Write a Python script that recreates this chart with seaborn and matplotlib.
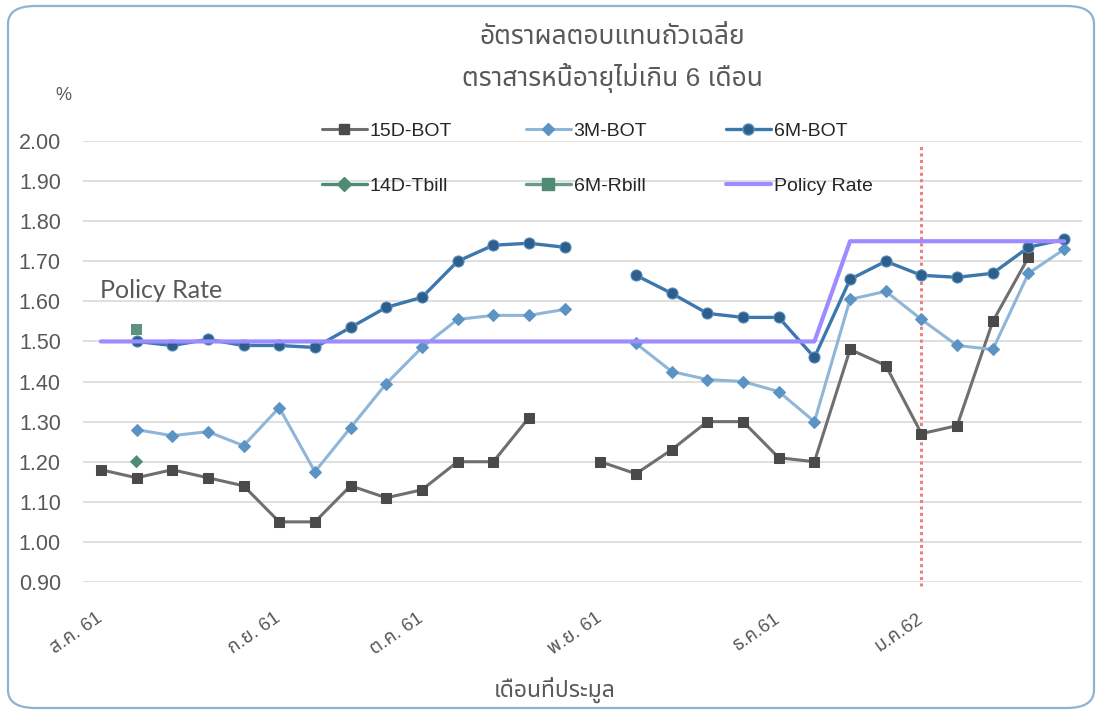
import numpy as np
import pandas as pd
import matplotlib
matplotlib.use("Agg")
import matplotlib.pyplot as plt
import seaborn as sns
from matplotlib import font_manager
from matplotlib.ft2font import FT2Font
from matplotlib.lines import Line2D
from matplotlib.patches import FancyBboxPatch

nan = np.nan

# auction number (category axis), one point per auction
auction_idx = list(range(28))

bot_15d = [1.18, 1.16, 1.18, 1.16, 1.14, 1.05, 1.05, 1.14, 1.11, 1.13, 1.20, 1.20, 1.31, nan,
           1.20, 1.17, 1.23, 1.30, 1.30, 1.21, 1.20, 1.48, 1.44, 1.27, 1.29, 1.55, 1.71, nan]
bot_3m = [nan, 1.28, 1.265, 1.275, 1.24, 1.335, 1.175, 1.285, 1.395, 1.485, 1.555, 1.565, 1.565, 1.58,
          nan, 1.495, 1.425, 1.405, 1.40, 1.375, 1.30, 1.605, 1.625, 1.555, 1.49, 1.48, 1.67, 1.73]
bot_6m = [nan, 1.50, 1.49, 1.505, 1.49, 1.49, 1.485, 1.535, 1.585, 1.61, 1.70, 1.74, 1.745, 1.735,
          nan, 1.665, 1.62, 1.57, 1.56, 1.56, 1.46, 1.655, 1.70, 1.665, 1.66, 1.67, 1.735, 1.755]
policy_rate = [1.50, 1.50, 1.50, 1.50, 1.50, 1.50, 1.50, 1.50, 1.50, 1.50, 1.50, 1.50, 1.50, 1.50,
               1.50, 1.50, 1.50, 1.50, 1.50, 1.50, 1.50, 1.75, 1.75, 1.75, 1.75, 1.75, 1.75, 1.75]
tbill_14d_idx = [1]
tbill_14d = [1.20]
rbill_6m_idx = [1]
rbill_6m = [1.53]

month_pos = [0, 5, 9, 14, 19, 23]
month_labels = ["ส.ค. 61", "ก.ย. 61", "ต.ค. 61", "พ.ย. 61", "ธ.ค.61", "ม.ค.62"]
new_year_idx = 23

title_text = "อัตราผลตอบแทนถัวเฉลี่ย\nตราสารหนี้อายุไม่เกิน 6 เดือน"
xlabel_text = "เดือนที่ประมูล"


def find_thai_font():
    """first installed font that has Thai glyphs"""
    found = []
    for f in font_manager.fontManager.ttflist:
        try:
            cmap = FT2Font(f.fname).get_charmap()
        except Exception:
            continue
        if 0x0E01 in cmap and 0x0E48 in cmap:
            found.append(f.name)
    for pref in ["Tahoma", "Noto Sans Thai", "Loma", "Garuda", "Sarabun"]:
        if pref in found:
            return pref
    return found[0] if found else "DejaVu Sans"


def segments(values):
    # split series at missing auctions so the line breaks there
    df = pd.DataFrame({"idx": auction_idx, "rate": values})
    df["seg"] = df["rate"].isna().cumsum()
    return df.dropna()


sns.set_theme(style="white")
thai = find_thai_font()
plt.rcParams["font.family"] = ["Liberation Sans", thai, "DejaVu Sans"]
grey_txt = "#595959"

fig = plt.figure(figsize=(10.99, 7.18), dpi=100)
ax = fig.add_axes([83 / 1099, 1 - 582 / 718, (1082 - 83) / 1099, (582 - 141) / 718])

# outer rounded frame
frame = FancyBboxPatch((8 / 1099, 10 / 718), 1086 / 1099, 702 / 718,
                       boxstyle="round,pad=0,rounding_size=0.025",
                       transform=fig.transFigure, fill=False,
                       edgecolor="#8fb1d3", linewidth=1.6, zorder=0)
fig.patches.append(frame)

sns.lineplot(data=segments(bot_15d), x="idx", y="rate", units="seg", estimator=None,
             color="#6f6f6f", lw=2.2, marker="s", markersize=6.5,
             markerfacecolor="#4a4a4a", markeredgecolor="#4a4a4a", ax=ax, legend=False, zorder=3)
sns.lineplot(data=segments(bot_3m), x="idx", y="rate", units="seg", estimator=None,
             color="#8fb6d8", lw=2.2, marker="D", markersize=6.5,
             markerfacecolor="#5b93c4", markeredgecolor="#5b93c4", ax=ax, legend=False, zorder=3)
sns.lineplot(data=segments(bot_6m), x="idx", y="rate", units="seg", estimator=None,
             color="#3c78ad", lw=2.4, marker="o", markersize=8,
             markerfacecolor="#2d5f8c", markeredgecolor="#5c8fbf", ax=ax, legend=False, zorder=4)
sns.lineplot(data=segments(policy_rate), x="idx", y="rate", units="seg", estimator=None,
             color="#9d8cff", lw=3, ax=ax, legend=False, zorder=5)
sns.scatterplot(x=tbill_14d_idx, y=tbill_14d, marker="D", s=45, color="#4f8a72",
                edgecolor="none", ax=ax, zorder=4)
sns.scatterplot(x=rbill_6m_idx, y=rbill_6m, marker="s", s=60, color="#5e9180",
                edgecolor="none", ax=ax, zorder=4)

ax.axvline(new_year_idx, ymin=-0.01, ymax=0.99, color="#f47c7c", lw=2.2, ls=(0, (1, 1.1)),
           zorder=1, clip_on=False)

ax.set_xlim(-0.5, 27.5)
ax.set_ylim(0.90, 2.00)
ax.set_yticks(np.arange(0.90, 2.001, 0.10))
ax.yaxis.set_major_formatter(matplotlib.ticker.FormatStrFormatter("%.2f"))
ax.grid(axis="y", color="#d9d9d9", lw=1.2)
ax.set_axisbelow(True)
ax.set_xticks(month_pos)
ax.set_xticklabels(month_labels, rotation=35, ha="right", va="center",
                   rotation_mode="anchor", fontsize=13.5, color=grey_txt)
ax.tick_params(axis="x", length=0, pad=25)
ax.tick_params(axis="y", length=0, pad=16, labelsize=15.5, labelcolor=grey_txt)
for s in ax.spines.values():
    s.set_visible(False)
ax.set_xlabel("")
ax.set_ylabel("")
ax.patch.set_alpha(0)

# texts
fig.text(612 / 1099, 1 - 59 / 718, title_text, ha="center", va="center",
         fontsize=19, color=grey_txt, linespacing=1.65)
fig.text(63 / 1099, 1 - 95 / 718, "%", ha="center", va="center", fontsize=13, color=grey_txt)
fig.text(555 / 1099, 1 - 690 / 718, xlabel_text, ha="center", va="center",
         fontsize=16.5, color=grey_txt)
fig.text(100 / 1099, 1 - 290 / 718, "Policy Rate", ha="left", va="center",
         fontsize=18, color=grey_txt, family=["Lato", "DejaVu Sans"])

# legend: three columns placed side by side
h15 = Line2D([], [], color="#6f6f6f", lw=2.2, marker="s", ms=6.5, mfc="#4a4a4a", mec="#4a4a4a")
h3m = Line2D([], [], color="#8fb6d8", lw=2.2, marker="D", ms=6.5, mfc="#5b93c4", mec="#5b93c4")
h6m = Line2D([], [], color="#3c78ad", lw=2.4, marker="o", ms=8, mfc="#2d5f8c", mec="#5c8fbf")
h14t = Line2D([], [], color="#4f8a72", lw=2.4, marker="D", ms=7)
h6r = Line2D([], [], color="#6a9a88", lw=2.4, marker="s", ms=8, mfc="#4f8a72", mec="#4f8a72")
hpol = Line2D([], [], color="#9d8cff", lw=3)
legend_cols = [
    ([h15, h14t], ["15D-BOT", "14D-Tbill"], 322),
    ([h3m, h6r], ["3M-BOT", "6M-Rbill"], 526),
    ([h6m, hpol], ["6M-BOT", "Policy Rate"], 726),
]
for handles, labels, x0 in legend_cols:
    fig.legend(handles, labels, loc="upper left", bbox_to_anchor=(x0 / 1099, 1 - 122 / 718),
               frameon=False, fontsize=14, handlelength=2.3, handletextpad=0.15,
               labelspacing=1.95, borderpad=0, borderaxespad=0, labelcolor="#262626")

fig.savefig("out.png", dpi=100)
